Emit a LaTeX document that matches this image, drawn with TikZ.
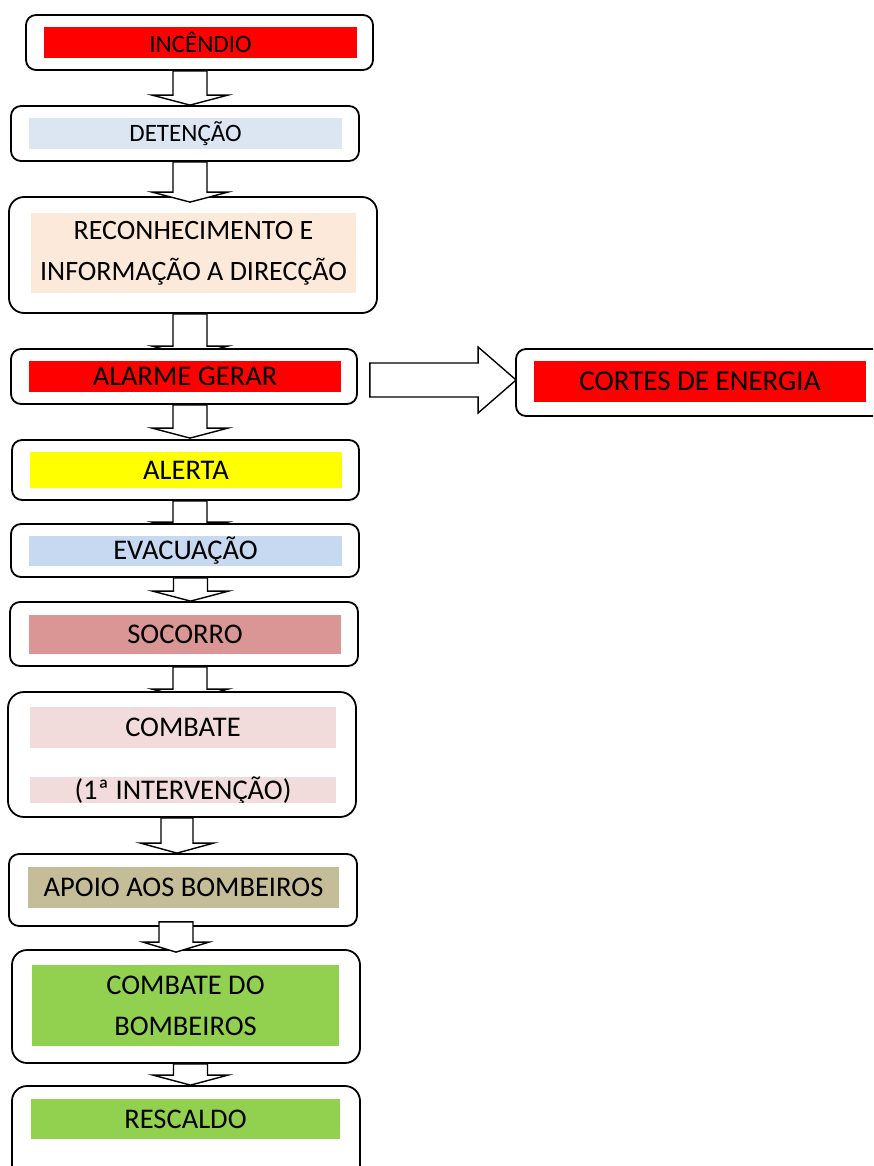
\documentclass[tikz,border=0pt]{standalone}
\usepackage{fontspec}
\setmainfont{Carlito}
\usetikzlibrary{calc,backgrounds}
\definecolor{cRed}{HTML}{FF0000}
\definecolor{cDet}{HTML}{DCE6F2}
\definecolor{cRec}{HTML}{FDE9D9}
\definecolor{cYel}{HTML}{FFFF00}
\definecolor{cEva}{HTML}{C6D9F1}
\definecolor{cSoc}{HTML}{D99694}
\definecolor{cCom}{HTML}{F2DCDB}
\definecolor{cApo}{HTML}{C4BD97}
\definecolor{cGre}{HTML}{92D050}
\tikzset{
  outerbox/.style={draw=black, line width=1.8pt, fill=white, rounded corners=10pt, inner sep=0pt},
  innerbox/.style={inner sep=0pt, text=black, align=center, font=\fontsize{28.5}{41}\selectfont},
  smalltext/.style={font=\fontsize{25}{30}\selectfont},
  blockarrow/.style={draw=black, line width=1.4pt, fill=white, line join=miter},
}
% #1 from, #2 to, #3 centre x, #4 shaft half width, #5 head half width, #6 tip depth into target, #7 start depth into source
\newcommand\dnarrow[7]{%
  \draw[blockarrow] let \p1=(#1.south), \p2=(#2.north) in
    ({#3-#4},{\y1+#7}) -- ({#3-#4},{\y2-#6+10pt}) -- ({#3-#5},{\y2-#6+10pt})
    -- ({#3},{\y2-#6}) -- ({#3+#5},{\y2-#6+10pt}) -- ({#3+#4},{\y2-#6+10pt})
    -- ({#3+#4},{\y1+#7}) -- cycle;}
\begin{document}
\begin{tikzpicture}[x=1pt,y=-1pt]
\path[use as bounding box, clip] (0,0) rectangle (873,1166);

% outer boxes
\node[outerbox, minimum width=347pt, minimum height=55pt] (b1) at (199.5,42.5) {};
\node[outerbox, minimum width=348pt, minimum height=55pt] (b2) at (185,133.5) {};
\node[outerbox, rounded corners=15pt, minimum width=368pt, minimum height=116pt] (b3) at (193,255) {};
\node[outerbox, minimum width=346pt, minimum height=55pt] (b4) at (184,376.5) {};
\node[outerbox, minimum width=369pt, minimum height=67pt] (b5) at (700.5,382.5) {};
\node[outerbox, minimum width=347pt, minimum height=60pt] (b6) at (185.5,470) {};
\node[outerbox, minimum width=348pt, minimum height=53pt] (b7) at (185,550.5) {};
\node[outerbox, minimum width=348pt, minimum height=64pt] (b8) at (184,634) {};
\node[outerbox, rounded corners=16pt, minimum width=348pt, minimum height=125pt] (b9) at (182,754.5) {};
\node[outerbox, minimum width=348pt, minimum height=72pt] (b10) at (183,890) {};
\node[outerbox, rounded corners=15pt, minimum width=348pt, minimum height=113pt] (b11) at (186,1006.5) {};
\node[outerbox, rounded corners=15pt, minimum width=348pt, minimum height=104pt] (b12) at (186,1138) {};

% inner coloured labels
\node[innerbox, smalltext, fill=cRed, minimum width=313pt, minimum height=31pt] (t1) at (200.5,42.5) {INCÊNDIO};
\node[innerbox, smalltext, fill=cDet, minimum width=313pt, minimum height=31pt] (t2) at (185.5,133.5) {DETENÇÃO};
\node[innerbox, fill=cRec, minimum width=325pt, minimum height=80pt, font=\fontsize{28}{41}\selectfont] (t3) at (193.5,253) {RECONHECIMENTO E\\INFORMAÇÃO A DIRECÇÃO};
\node[innerbox, fill=cRed, minimum width=312pt, minimum height=31pt] (t4) at (185,376.5) {ALARME GERAR};
\node[innerbox, fill=cRed, minimum width=332pt, minimum height=41pt, font=\fontsize{29}{35}\selectfont] (t5) at (700,381.5) {CORTES DE ENERGIA};
\node[innerbox, fill=cYel, minimum width=312pt, minimum height=36pt] (t6) at (186,470) {ALERTA};
\node[innerbox, fill=cEva, minimum width=313pt, minimum height=30pt] (t7) at (185.5,551) {EVACUAÇÃO};
\node[innerbox, fill=cSoc, minimum width=312pt, minimum height=39pt] (t8) at (185,634.5) {SOCORRO};
\node[innerbox, fill=cCom, minimum width=306pt, minimum height=41pt] (t9a) at (183,727.5) {COMBATE};
\begin{scope}
  \clip (30,774) rectangle (336,802);
  \node[innerbox, fill=cCom, minimum width=306pt, minimum height=28pt, font=\fontsize{28.5}{30}\selectfont] (t9b) at (183,791) {(1ª INTERVENÇÃO)};
\end{scope}
\node[innerbox, fill=cApo, minimum width=311pt, minimum height=41pt] (t10) at (183.5,887.5) {APOIO AOS BOMBEIROS};
\node[innerbox, fill=cGre, minimum width=307pt, minimum height=81pt] (t11) at (185.5,1005.5) {COMBATE DO\\BOMBEIROS};
\node[innerbox, fill=cGre, minimum width=309pt, minimum height=40pt] (t12) at (185.5,1119) {RESCALDO};

% block arrows drawn on top
\dnarrow{b1}{b2}{190pt}{17pt}{38pt}{0pt}{0pt}
\dnarrow{b2}{b3}{190pt}{17pt}{38pt}{6pt}{0pt}
\dnarrow{b4}{b6}{190pt}{17pt}{38pt}{-1pt}{0pt}
\dnarrow{b7}{b8}{190.5pt}{17pt}{38pt}{0pt}{0pt}
\dnarrow{b9}{b10}{177pt}{16pt}{36.5pt}{0pt}{0pt}
\dnarrow{b10}{b11}{176pt}{17pt}{33pt}{3pt}{5pt}
\dnarrow{b11}{b12}{190.5pt}{17pt}{37.5pt}{0pt}{0pt}

% block arrows partly hidden behind the boxes
\begin{scope}[on background layer]
\dnarrow{b3}{b4}{190pt}{17pt}{38pt}{8pt}{0pt}
\dnarrow{b6}{b7}{190pt}{17pt}{38pt}{9pt}{0pt}
\dnarrow{b8}{b9}{190pt}{17pt}{38pt}{8pt}{0pt}
\end{scope}

% horizontal block arrow
\draw[blockarrow] let \p1=(b4.east), \p2=($(b5.west)+(0,-2.5)$) in
  ({\x1+12pt},{\y2+17pt}) -- ({\x2-37pt},{\y2+17pt}) -- ({\x2-37pt},{\y2+33pt})
  -- ({\x2+1pt},{\y2}) -- ({\x2-37pt},{\y2-33pt}) -- ({\x2-37pt},{\y2-17pt})
  -- ({\x1+12pt},{\y2-17pt}) -- cycle;
\end{tikzpicture}
\end{document}
